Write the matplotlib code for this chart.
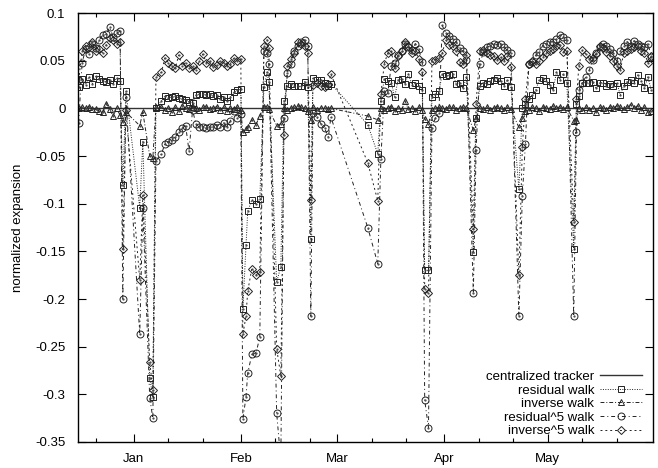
import numpy as np
import matplotlib.pyplot as plt

plt.rcParams['font.family'] = ['Liberation Sans', 'DejaVu Sans']
plt.rcParams['axes.unicode_minus'] = False

# days counted from Jan 1 (negative = December)
days = [-16, -15, -14, -13, -12, -11, -10, -9, -8, -7, -6, -5, -4,
        -3.2, -2.3, 1.7, 2.6, 4.6, 5.5, 6.4,
        8, 9, 10, 11, 12, 13, 14, 15, 16, 17, 18, 19, 20, 21, 22, 23, 24, 25, 26, 27, 28, 29, 30, 31,
        31.6, 32.5, 33.0, 34.2, 35.4, 36.5,
        37.7, 38.6, 39.1,
        41.4, 42.6,
        43.5, 44.5, 45.5, 46.5, 47.5, 48.5, 49.5, 50.4,
        51.3,
        51.9, 53.0, 54.2, 55.3, 56.4, 57.1,
        67.8, 70.7,
        71.6, 72.6, 73.6, 74.6, 75.6, 76.6, 77.6, 78.6, 79.6, 80.6, 81.6, 82.6, 83.6,
        84.3, 85.4,
        86.4, 87.4, 88.4, 89.4, 90.4, 91.4, 92.4, 93.4, 94.4, 95.4, 96.4,
        98.4, 99.2,
        100.3, 101.3, 102.3, 103.3, 104.3, 105.3, 106.3, 107.3, 108.3, 109.3,
        111.6, 112.6, 113.5,
        114.5, 115.5, 116.5, 117.5, 118.5, 119.5, 120.5, 121.5, 122.5, 123.5, 124.5, 125.5,
        127.5, 128.3,
        129, 130, 131, 132, 133, 134, 135, 136, 137, 138, 139, 140, 141, 142, 143, 144, 145, 146, 147, 148, 149, 150]

centralizedTracker = [0.0] * len(days)

residualWalk = [0.022, 0.031, 0.025, 0.033, 0.026, 0.034, 0.031, 0.029, 0.028, 0.030, 0.026, 0.032, 0.029,
                -0.080, 0.018, -0.104, -0.035, -0.283, -0.303, 0.000,
                0.008, 0.013, 0.011, 0.012, 0.013, 0.011, 0.010, 0.009, 0.007, 0.006, 0.014, 0.015, 0.015, 0.014, 0.015, 0.013, 0.014, 0.010, 0.012, 0.008, 0.012, 0.017, 0.019, 0.020,
                -0.210, -0.143, -0.108, -0.096, -0.100, -0.095,
                0.022, 0.038, 0.028,
                -0.182, -0.166,
                0.008, 0.024, 0.026, 0.024, 0.023, 0.023, 0.028, 0.022,
                -0.137,
                0.032, 0.030, 0.030, 0.027, 0.024, 0.026,
                -0.017, -0.048,
                0.008, 0.031, 0.029, 0.027, 0.012, 0.030, 0.031, 0.026, 0.036, 0.025, 0.027, 0.024, 0.019,
                -0.170, -0.170,
                0.012, 0.015, 0.018, 0.036, 0.034, 0.035, 0.036, 0.026, 0.027, 0.021, 0.033,
                -0.151, -0.010,
                0.024, 0.027, 0.026, 0.029, 0.030, 0.032, 0.029, 0.024, 0.030, 0.022,
                -0.085, 0.000, 0.005,
                0.010, 0.014, 0.019, 0.030, 0.032, 0.029, 0.025, 0.019, 0.038, 0.030, 0.036, 0.027,
                -0.147, 0.005,
                0.013, 0.027, 0.027, 0.027, 0.028, 0.021, 0.027, 0.027, 0.024, 0.026, 0.024, 0.027, 0.014, 0.024, 0.028, 0.030, 0.027, 0.035, 0.029, 0.021, 0.033, 0.019]

inverseWalk = [0.000, 0.001, 0.000, 0.002, -0.001, -0.001, -0.003, -0.004, 0.005, -0.001, -0.008, 0.000, -0.007,
               -0.014, -0.004, -0.018, -0.004, -0.050, -0.052, 0.001,
               0.001, -0.002, 0.000, -0.004, 0.001, -0.003, 0.003, 0.000, -0.001, 0.002, 0.000, -0.002, 0.001, 0.002, -0.001, 0.000, 0.002, -0.002, 0.001, -0.003, 0.000, -0.001, 0.001, -0.002,
               -0.025, -0.022, -0.020, -0.012, -0.017, -0.008,
               0.002, 0.001, -0.001,
               -0.018, -0.016,
               0.000, -0.002, 0.000, 0.001, 0.003, 0.001, 0.000, -0.003,
               -0.012,
               0.001, -0.002, 0.000, 0.000, -0.001, 0.000,
               -0.008, -0.012,
               0.000, -0.002, 0.000, 0.002, -0.003, 0.000, -0.002, 0.008, -0.001, 0.000, -0.003, 0.001, -0.002,
               -0.011, -0.016,
               -0.002, 0.000, 0.001, 0.000, -0.001, 0.002, 0.001, -0.002, 0.000, 0.001, 0.000,
               -0.023, -0.010,
               0.000, -0.001, 0.001, -0.002, 0.000, 0.002, 0.000, -0.002, 0.001, -0.001,
               -0.020, -0.010, -0.003,
               -0.002, 0.001, 0.000, -0.003, 0.002, 0.000, -0.001, 0.003, 0.000, 0.002, -0.001, 0.001,
               -0.013, -0.012,
               0.000, -0.002, 0.001, -0.002, 0.000, -0.004, 0.001, 0.000, -0.002, 0.002, 0.000, 0.003, 0.001, -0.001, 0.002, 0.004, 0.000, 0.003, -0.002, 0.001, -0.004, -0.003]

residual5Walk = [-0.015, 0.048, 0.062, 0.057, 0.068, 0.063, 0.072, 0.077, 0.078, 0.085, 0.075, 0.079, 0.081,
                 -0.200, 0.012, -0.237, -0.105, -0.304, -0.325, -0.055,
                 -0.048, -0.037, -0.035, -0.033, -0.030, -0.025, -0.021, -0.018, -0.045, -0.002, -0.016, -0.020, -0.019, -0.021, -0.020, -0.019, -0.017, -0.019, -0.015, -0.020, -0.013, -0.003, -0.010, -0.006,
                 -0.326, -0.303, -0.278, -0.258, -0.257, -0.240,
                 0.060, 0.058, 0.047,
                 -0.320, -0.370,
                 -0.010, 0.037, 0.047, 0.060, 0.066, 0.070, 0.072, 0.065,
                 -0.218,
                 -0.005, -0.009, -0.016, -0.021, -0.030, -0.009,
                 -0.125, -0.163,
                 -0.053, 0.018, 0.016, 0.045, 0.048, 0.056, 0.060, 0.068, 0.064, 0.061, 0.068, 0.062, 0.049,
                 -0.306, -0.335,
                 -0.021, -0.010, -0.005, 0.087, 0.079, 0.076, 0.073, 0.070, 0.063, 0.060, 0.051,
                 -0.194, -0.044,
                 0.047, 0.059, 0.064, 0.066, 0.068, 0.067, 0.068, 0.064, 0.061, 0.058,
                 -0.218, -0.092, -0.037,
                 0.047, 0.049, 0.056, 0.059, 0.066, 0.068, 0.070, 0.070, 0.073, 0.077, 0.075, 0.072,
                 -0.218, -0.025,
                 0.019, 0.027, 0.033, 0.040, 0.051, 0.058, 0.064, 0.068, 0.065, 0.062, 0.058, 0.050, 0.060, 0.066, 0.070, 0.066, 0.071, 0.068, 0.066, 0.064, 0.068, 0.054]

inverse5Walk = [0.030, 0.060, 0.066, 0.064, 0.070, 0.060, 0.062, 0.058, 0.067, 0.074, 0.072, 0.068, 0.070,
                -0.148, -0.002, -0.180, -0.091, -0.266, -0.295, 0.033,
                0.038, 0.053, 0.048, 0.044, 0.042, 0.056, 0.045, 0.048, 0.042, 0.044, 0.040, 0.050, 0.057, 0.048, 0.050, 0.043, 0.046, 0.050, 0.048, 0.045, 0.047, 0.053, 0.050, 0.052,
                -0.237, -0.218, -0.192, -0.168, -0.175, -0.172,
                0.065, 0.072, 0.063,
                -0.252, -0.281,
                -0.028, 0.045, 0.052, 0.058, 0.070, 0.068, 0.066, 0.058,
                -0.096,
                0.025, 0.027, 0.024, 0.022, 0.026, 0.036,
                -0.057, -0.097,
                0.015, 0.047, 0.058, 0.060, 0.042, 0.055, 0.060, 0.070, 0.066, 0.058, 0.060, 0.052, 0.038,
                -0.189, -0.194,
                0.050, 0.051, 0.053, 0.058, 0.072, 0.067, 0.065, 0.060, 0.049, 0.047, 0.056,
                -0.127, 0.005,
                0.060, 0.061, 0.058, 0.056, 0.055, 0.051, 0.054, 0.050, 0.055, 0.043,
                -0.175, -0.041, 0.010,
                0.047, 0.050, 0.047, 0.050, 0.054, 0.058, 0.060, 0.062, 0.065, 0.067, 0.059, 0.060,
                -0.119, 0.010,
                0.045, 0.061, 0.057, 0.052, 0.053, 0.057, 0.066, 0.063, 0.059, 0.055, 0.050, 0.045, 0.040, 0.058, 0.060, 0.062, 0.064, 0.066, 0.060, 0.058, 0.048, 0.055]

monthTicks = [0, 31, 59, 90, 120]
monthLabels = ['Jan', 'Feb', 'Mar', 'Apr', 'May']
minorTicks = [-11, 10, 20, 41, 51, 69, 79, 100, 110, 130, 140]
yTicks = [0.1, 0.05, 0, -0.05, -0.1, -0.15, -0.2, -0.25, -0.3, -0.35]
yLabels = ['0.1', '0.05', '0', '-0.05', '-0.1', '-0.15', '-0.2', '-0.25', '-0.3', '-0.35']


def drawWalk(ax, values, marker, dashes, label, size):
    ax.plot(days, values, color='#222222', linewidth=0.7, linestyle=dashes,
            marker=marker, markersize=size, markerfacecolor='none',
            markeredgecolor='#222222', markeredgewidth=0.7, label=label)
    # gnuplot style dot in the middle of each point
    ax.plot(days, values, linestyle='none', marker='.', markersize=1.2, color='#444444')


def main():
    fig = plt.figure(figsize=(6.58, 4.68), dpi=100)
    ax = fig.add_axes([0.1185, 0.0556, 0.874, 0.9164])

    ax.plot(days, centralizedTracker, color='#333333', linewidth=1.0, label='centralized tracker')
    drawWalk(ax, residualWalk, 's', (0, (1, 1.5)), 'residual walk', 5)
    drawWalk(ax, inverseWalk, '^', (0, (4, 2, 1, 2)), 'inverse walk', 5)
    drawWalk(ax, residual5Walk, 'o', (0, (4, 3, 1, 3)), 'residual^5 walk', 5)
    drawWalk(ax, inverse5Walk, 'D', (0, (2, 3)), 'inverse^5 walk', 3.8)

    ax.set_xlim(-16.2, 150.5)
    ax.set_ylim(-0.35, 0.1)
    ax.set_xticks(monthTicks)
    ax.set_xticklabels(monthLabels)
    ax.set_xticks(minorTicks, minor=True)
    ax.set_yticks(yTicks)
    ax.set_yticklabels(yLabels)
    ax.tick_params(which='major', direction='in', length=6, width=0.8,
                   top=True, right=True, labelsize=9.5)
    ax.tick_params(axis='x', which='major', pad=8)
    ax.tick_params(axis='y', which='major', pad=9)
    ax.tick_params(which='minor', direction='in', length=3, width=0.8, top=True, right=True)
    for spine in ax.spines.values():
        spine.set_linewidth(1.0)

    ax.set_ylabel('normalized expansion', fontsize=9.5, labelpad=8)

    ax.legend(loc='lower right', bbox_to_anchor=(0.985, 0.005), frameon=False,
              markerfirst=False, fontsize=9.5, handlelength=3.2, handletextpad=0.4,
              labelspacing=0.1, borderpad=0.2, borderaxespad=0.0)

    fig.savefig('out.png', dpi=100)


if __name__ == "__main__":
    main()
